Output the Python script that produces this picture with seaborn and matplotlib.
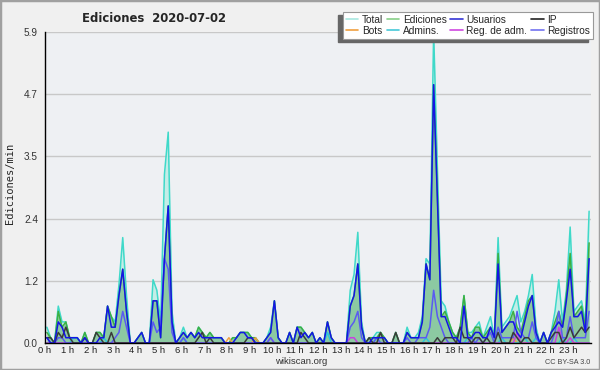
import numpy as np
import pandas as pd
import matplotlib
matplotlib.use("Agg")
import matplotlib.pyplot as plt
import seaborn as sns
from matplotlib.lines import Line2D
from matplotlib.patches import Rectangle

# ---------------- data (edits per minute, 10-minute bins) ----------------
hour_labels = [f"{h} h" for h in range(24)]
y_tick_values = [0.0, 1.18, 2.36, 3.54, 4.72, 5.9]
y_tick_labels = ["0.0", "1.2", "2.4", "3.5", "4.7", "5.9"]

total = [0.3,0.1,0.0,0.7,0.4,0.4,0.1,0.1,0.1,0.0,
         0.2,0.0,0.0,0.2,0.2,0.1,0.7,0.5,0.4,1.1,
         2.0,0.9,0.0,0.0,0.1,0.2,0.0,0.0,1.2,1.0,
         0.4,3.2,4.0,0.6,0.0,0.1,0.3,0.1,0.2,0.1,
         0.3,0.2,0.1,0.2,0.1,0.1,0.1,0.0,0.0,0.1,
         0.1,0.2,0.2,0.2,0.1,0.1,0.0,0.0,0.1,0.3,
         0.8,0.1,0.0,0.0,0.2,0.0,0.3,0.3,0.2,0.1,
         0.2,0.0,0.1,0.0,0.4,0.1,0.0,0.0,0.0,0.0,
         1.0,1.3,2.1,0.4,0.0,0.1,0.1,0.2,0.2,0.1,
         0.0,0.0,0.2,0.0,0.0,0.3,0.1,0.1,0.2,0.5,
         1.6,1.5,5.9,3.3,0.8,0.7,0.4,0.2,0.1,0.3,
         0.9,0.2,0.2,0.3,0.4,0.1,0.3,0.5,0.1,2.0,
         0.3,0.4,0.5,0.7,0.9,0.4,0.6,0.9,1.3,0.3,
         0.0,0.2,0.0,0.2,0.6,1.2,0.4,1.0,2.2,0.6,
         0.7,0.8,0.4,2.5]

ediciones = [0.2,0.1,0.0,0.6,0.3,0.4,0.1,0.1,0.1,0.0,
             0.2,0.0,0.0,0.2,0.2,0.1,0.7,0.5,0.3,0.9,
             1.4,0.6,0.0,0.0,0.1,0.2,0.0,0.0,0.8,0.8,
             0.1,1.6,2.6,0.4,0.0,0.1,0.2,0.1,0.2,0.1,
             0.3,0.2,0.1,0.2,0.1,0.1,0.1,0.0,0.0,0.1,
             0.1,0.2,0.2,0.2,0.1,0.1,0.0,0.0,0.1,0.2,
             0.8,0.1,0.0,0.0,0.2,0.0,0.3,0.3,0.2,0.1,
             0.2,0.0,0.1,0.0,0.4,0.1,0.0,0.0,0.0,0.0,
             0.7,0.9,1.5,0.3,0.0,0.1,0.1,0.1,0.2,0.1,
             0.0,0.0,0.2,0.0,0.0,0.2,0.1,0.1,0.1,0.4,
             1.5,1.2,4.9,2.8,0.5,0.6,0.4,0.2,0.1,0.3,
             0.9,0.2,0.1,0.3,0.3,0.1,0.2,0.3,0.1,1.7,
             0.2,0.3,0.4,0.6,0.3,0.2,0.5,0.8,0.9,0.2,
             0.0,0.2,0.0,0.2,0.4,0.6,0.3,0.9,1.7,0.5,
             0.6,0.7,0.3,1.9]

usuarios = [0.1,0.0,0.0,0.4,0.3,0.1,0.1,0.1,0.1,0.0,
            0.1,0.0,0.0,0.0,0.1,0.1,0.7,0.3,0.3,0.9,
            1.4,0.6,0.0,0.0,0.1,0.2,0.0,0.0,0.8,0.8,
            0.1,1.6,2.6,0.4,0.0,0.1,0.2,0.1,0.2,0.1,
            0.2,0.1,0.1,0.1,0.1,0.1,0.1,0.0,0.0,0.0,
            0.1,0.2,0.2,0.1,0.1,0.0,0.0,0.0,0.1,0.2,
            0.8,0.1,0.0,0.0,0.2,0.0,0.3,0.1,0.2,0.1,
            0.2,0.0,0.1,0.0,0.4,0.1,0.0,0.0,0.0,0.0,
            0.7,0.9,1.5,0.3,0.0,0.0,0.1,0.1,0.1,0.1,
            0.0,0.0,0.0,0.0,0.0,0.2,0.1,0.1,0.1,0.4,
            1.5,1.2,4.9,2.7,0.5,0.5,0.3,0.1,0.1,0.0,
            0.7,0.1,0.1,0.2,0.2,0.1,0.1,0.3,0.1,1.5,
            0.2,0.3,0.4,0.4,0.2,0.1,0.4,0.7,0.9,0.2,
            0.0,0.2,0.0,0.2,0.3,0.4,0.3,0.8,1.4,0.5,
            0.5,0.6,0.2,1.6]

registros = [0.1,0.0,0.0,0.1,0.1,0.0,0.0,0.0,0.0,0.0,
             0.0,0.0,0.0,0.0,0.0,0.0,0.0,0.0,0.1,0.2,
             0.6,0.3,0.0,0.0,0.0,0.0,0.0,0.0,0.4,0.2,
             0.3,1.6,1.4,0.2,0.0,0.0,0.1,0.0,0.0,0.0,
             0.0,0.0,0.0,0.0,0.0,0.0,0.0,0.0,0.0,0.0,
             0.0,0.0,0.0,0.0,0.0,0.0,0.0,0.0,0.0,0.1,
             0.0,0.0,0.0,0.0,0.0,0.0,0.0,0.0,0.0,0.0,
             0.0,0.0,0.0,0.0,0.0,0.0,0.0,0.0,0.0,0.0,
             0.3,0.4,0.6,0.1,0.0,0.0,0.0,0.1,0.0,0.0,
             0.0,0.0,0.0,0.0,0.0,0.1,0.0,0.0,0.1,0.1,
             0.1,0.3,1.0,0.5,0.3,0.1,0.0,0.0,0.0,0.0,
             0.0,0.0,0.1,0.0,0.1,0.0,0.1,0.2,0.0,0.3,
             0.1,0.1,0.1,0.1,0.6,0.2,0.1,0.1,0.4,0.1,
             0.0,0.0,0.0,0.0,0.2,0.6,0.1,0.1,0.5,0.1,
             0.1,0.1,0.1,0.6]

ip = [0.1,0.1,0.0,0.2,0.1,0.3,0.1,0.0,0.0,0.0,
      0.1,0.0,0.0,0.2,0.1,0.0,0.0,0.2,0.0,0.0,
      0.0,0.0,0.0,0.0,0.0,0.0,0.0,0.0,0.0,0.0,
      0.0,0.0,0.0,0.0,0.0,0.0,0.0,0.0,0.0,0.0,
      0.1,0.2,0.0,0.1,0.0,0.0,0.0,0.0,0.0,0.0,
      0.0,0.0,0.0,0.1,0.1,0.0,0.0,0.0,0.0,0.0,
      0.0,0.0,0.0,0.0,0.0,0.0,0.0,0.2,0.1,0.0,
      0.0,0.0,0.0,0.0,0.0,0.0,0.0,0.0,0.0,0.0,
      0.0,0.0,0.0,0.0,0.0,0.1,0.0,0.0,0.2,0.0,
      0.0,0.0,0.2,0.0,0.0,0.0,0.0,0.0,0.0,0.0,
      0.0,0.0,0.0,0.1,0.0,0.1,0.1,0.1,0.0,0.3,
      0.1,0.1,0.0,0.1,0.1,0.0,0.1,0.0,0.0,0.2,
      0.0,0.0,0.0,0.2,0.1,0.0,0.1,0.1,0.0,0.0,
      0.0,0.0,0.0,0.1,0.2,0.2,0.0,0.1,0.3,0.1,
      0.2,0.3,0.2,0.3]

admins = [0.0,0.0,0.0,0.0,0.0,0.0,0.0,0.1,0.1,0.0,
          0.0,0.0,0.0,0.0,0.0,0.1,0.0,0.0,0.0,0.0,
          0.0,0.0,0.0,0.0,0.0,0.0,0.0,0.0,0.0,0.0,
          0.0,0.0,0.0,0.0,0.0,0.0,0.1,0.0,0.0,0.0,
          0.0,0.0,0.0,0.0,0.0,0.0,0.0,0.0,0.0,0.0,
          0.0,0.0,0.0,0.0,0.0,0.0,0.0,0.0,0.0,0.0,
          0.0,0.0,0.0,0.0,0.0,0.0,0.0,0.0,0.0,0.0,
          0.0,0.0,0.0,0.0,0.2,0.0,0.0,0.0,0.0,0.0,
          0.0,0.0,0.0,0.0,0.0,0.0,0.0,0.1,0.0,0.0,
          0.0,0.0,0.0,0.0,0.0,0.0,0.0,0.0,0.0,0.0,
          0.1,0.0,0.0,0.0,0.0,0.0,0.0,0.0,0.0,0.0,
          0.0,0.1,0.1,0.0,0.0,0.0,0.0,0.0,0.0,0.0,
          0.1,0.0,0.0,0.0,0.0,0.0,0.1,0.0,0.0,0.1,
          0.0,0.0,0.0,0.0,0.0,0.0,0.1,0.0,0.0,0.1,
          0.0,0.0,0.0,0.0]

bots = [0.0]*48 + [0.1] + [0.0]*6 + [0.1] + [0.0]*67 + [0.1] + [0.0]*20

reg_adm = [0.0]*59 + [0.1] + [0.0]*20 + [0.1, 0.1] + [0.0]*42 + [0.2] + [0.0]*10 + [0.3, 0.0, 0.0, 0.1] + [0.0]*5

n = len(total)
t = (np.arange(n) + 0.5) / 6.0

df = pd.DataFrame({"t": t, "Total": total, "Ediciones": ediciones, "Usuarios": usuarios,
                   "IP": ip, "Bots": bots, "Admins.": admins, "Reg. de adm.": reg_adm,
                   "Registros": registros})
long = df.melt(id_vars="t", var_name="serie", value_name="v")

line_colors = {"Total": "#3fd9c9", "Ediciones": "#3cb043", "Usuarios": "#1414e6",
               "IP": "#3a3a3a", "Bots": "#f0a040", "Admins.": "#2ec4dc",
               "Reg. de adm.": "#c840e0", "Registros": "#5a5af2"}
legend_colors = {"Total": "#a8e8e0", "Ediciones": "#88d088", "Usuarios": "#3535d5",
                 "IP": "#222222", "Bots": "#f0a040", "Admins.": "#45c8d8",
                 "Reg. de adm.": "#d048e0", "Registros": "#7272f0"}
draw_order = ["Total", "Ediciones", "Bots", "Admins.", "Reg. de adm.", "Registros", "IP", "Usuarios"]

# ---------------- figure ----------------
sns.set_style("white")
plt.rcParams["font.family"] = ["Liberation Sans", "DejaVu Sans"]

W, H = 600, 370
fig = plt.figure(figsize=(6, 3.7), dpi=100, facecolor="#f0f0f0")
ax = fig.add_axes([45 / W, 1 - 343 / H, 546 / W, 311 / H])
ax.set_facecolor("#eef0f3")

ax.fill_between(df["t"], df["Total"], color="#c4ede7", lw=0, zorder=1)
ax.fill_between(df["t"], df["Ediciones"], color="#8cc9a2", lw=0, zorder=1.1)

sns.lineplot(data=long, x="t", y="v", hue="serie", hue_order=draw_order,
             palette=line_colors, linewidth=1.1, legend=False, ax=ax,
             estimator=None, zorder=2)

ax.set_xlim(0, 24)
ax.set_ylim(0, 5.9)
ax.set_xticks(range(24))
ax.set_xticklabels(hour_labels, fontsize=6.8, color="#222222")
ax.set_xticks(np.arange(0, 24, 1 / 6), minor=True)
ax.set_yticks(y_tick_values)
ax.set_yticklabels(y_tick_labels, fontsize=7.2, color="#333333")
ax.set_yticks([0.59, 1.77, 2.95, 4.13, 5.31], minor=True)
ax.tick_params(axis="x", which="both", direction="out", length=3, width=0.8, pad=-0.5, color="black")
ax.tick_params(axis="y", which="major", direction="out", length=4, width=0.8, pad=1, color="black")
ax.tick_params(axis="y", which="minor", direction="out", length=3, width=0.8, color="black")
ax.set_xlabel("")
ax.set_ylabel("")
ax.yaxis.grid(True, color="#c8c8c8", lw=1)
ax.xaxis.grid(False)
ax.set_axisbelow(True)
for s in ["top", "right"]:
    ax.spines[s].set_visible(False)
for s in ["left", "bottom"]:
    ax.spines[s].set_color("black")
    ax.spines[s].set_linewidth(1.0)

fig.text(154 / W, 1 - 18 / H, "Ediciones  2020-07-02", ha="center", va="center",
         fontsize=8.4, fontweight="bold", family=["DejaVu Sans"])
fig.text(10 / W, 1 - 183 / H, "Ediciones/min", rotation=90, ha="center", va="center",
         fontsize=7.5, family=["DejaVu Sans Mono"])
fig.text(301 / W, 1 - 362 / H, "wikiscan.org", ha="center", va="center", fontsize=6.8, color="#333333")
fig.text(590 / W, 1 - 362 / H, "CC BY-SA 3.0", ha="right", va="center", fontsize=5.2, color="#444444")

leg_order = ["Total", "Bots", "Ediciones", "Admins.", "Usuarios", "Reg. de adm.", "IP", "Registros"]
handles = [Line2D([0], [0], color=legend_colors[k], lw=1.2) for k in leg_order]
leg = fig.legend(handles, leg_order, ncol=4, loc="upper right",
                 bbox_to_anchor=(593 / W, 1 - 12 / H), fontsize=7.3, frameon=True,
                 fancybox=False, edgecolor="#999999", facecolor="white", framealpha=1,
                 handlelength=1.25, handletextpad=0.35, columnspacing=0.35,
                 labelspacing=0.05, borderpad=0.3, borderaxespad=0)
leg.get_frame().set_linewidth(0.8)

# legend shadow, offset to the lower left
fig.canvas.draw()
bb = leg.get_window_extent()
fig.patches.append(Rectangle(((bb.x0 - 5) / W, (bb.y0 - 3) / H), bb.width / W, bb.height / H,
                             transform=fig.transFigure, color="#666666", zorder=1))
fig.patches.append(Rectangle((0, 0), 1, 1, transform=fig.transFigure, fill=False,
                             edgecolor="#a0a0a0", lw=2.5, zorder=10))

fig.savefig("out.png", dpi=100, facecolor=fig.get_facecolor())
